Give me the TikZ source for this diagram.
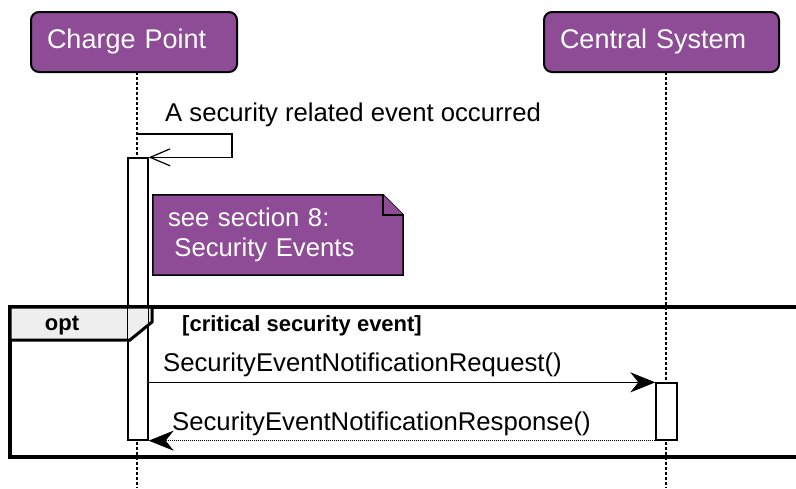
\documentclass[tikz,border=0pt]{standalone}
\usepackage{fontspec}
\setmainfont{Liberation Sans}
\usetikzlibrary{arrows.meta,backgrounds}
\definecolor{umlpurple}{RGB}{142,75,150}
\definecolor{tabgray}{RGB}{238,238,238}
\begin{document}
\begin{tikzpicture}[x=1pt,y=-1pt,
  every node/.style={font=\fontsize{25.7}{30}\selectfont, inner sep=0pt},
  participant/.style={draw=black, line width=2pt, fill=umlpurple, text=white,
    rounded corners=8pt, minimum height=60pt, align=left, inner xsep=16pt,
    font=\fontsize{27}{31}\selectfont},
  lifeline/.style={line width=1.3pt, dash pattern=on 2.5pt off 2.5pt},
  actbox/.style={draw=black, line width=1.3pt, fill=white, minimum width=20pt},
  actline/.style={draw=black, line width=1.3pt},
  msg/.style={line width=1.1pt},
  reply/.style={line width=1.1pt, dash pattern=on 1pt off 1pt},
  filledhead/.style={-{Stealth[length=25pt,width=20pt,inset=8pt]}},
  openhead/.style={-{Straight Barb[length=20pt,width=17pt,line width=1.2pt]}},
  notebox/.style={text=white, align=left, text width=220pt, inner xsep=15pt,
    minimum width=250pt, minimum height=80pt},
  noteshape/.style={draw=black, line width=1.5pt, fill=umlpurple},
  framebox/.style={line width=4pt},
  tabshape/.style={draw=black, line width=3pt, fill=tabgray},
  framelabel/.style={font=\bfseries\fontsize{22}{26}\selectfont},
  msglabel/.style={anchor=west}
]
\useasboundingbox (0,0) rectangle (796,488);

% participants
\node[participant, text width=174pt] (cp) at (134,42) {Charge Point};
\node[participant, text width=203pt] (cs) at (661.5,42) {Central System};

% lifelines
\coordinate (cptop) at (137,72);
\coordinate (cpbot) at (137,488);
\coordinate (cstop) at (666,72);
\coordinate (csbot) at (666,488);
\draw[lifeline] (cptop) -- (cpbot);
\draw[lifeline] (cstop) -- (csbot);

% activations
\node[actbox, minimum height=282pt] (act1) at (138,299) {};
\node[actbox, minimum width=21pt, minimum height=57pt] (act2) at (666.5,411.5) {};

% self message
\coordinate (self) at (137,134);
\node[msglabel] (selflbl) at (165,115) {A security related event occurred};
\draw[msg, openhead] (self) -- ++(95,0) |- (act1.north east);

% note
\node[notebox] (note) at (278,235) {see section 8:\\\hspace*{0.25em}Security Events};
\begin{scope}[on background layer]
\draw[noteshape] (note.north west) -- ([xshift=-20pt]note.north east)
  -- ([yshift=-20pt]note.north east) -- (note.south east) -- (note.south west) -- cycle;
\draw[noteshape] ([xshift=-20pt]note.north east) -- ([xshift=-20pt,yshift=-20pt]note.north east)
  -- ([yshift=-20pt]note.north east);
\end{scope}

% combined fragment
\draw[framebox] (805,307) -- (10,307) -- (10,457) -- (805,457);
\draw[tabshape] (10,307) -- (152,307) -- (152,322) -- (130,340) -- (10,340) -- cycle;
\node[framelabel] (opt) at (62,326) {opt};
\node[framelabel, anchor=west] (guard) at (182,326) {[critical security event]};

% redraw activation outline over the fragment
\draw[actline] (act1.north west) rectangle (act1.south east);
\draw[actline] (act2.north west) rectangle (act2.south east);

% messages
\node[msglabel] (reqlbl) at (163,365) {SecurityEventNotificationRequest()};
\draw[msg, filledhead] (act1.east |- act2.north) -- (act2.north west);
\node[msglabel] (reslbl) at (172,424) {SecurityEventNotificationResponse()};
\draw[reply, filledhead] (act2.south west) -- (act1.south east);
\end{tikzpicture}
\end{document}
